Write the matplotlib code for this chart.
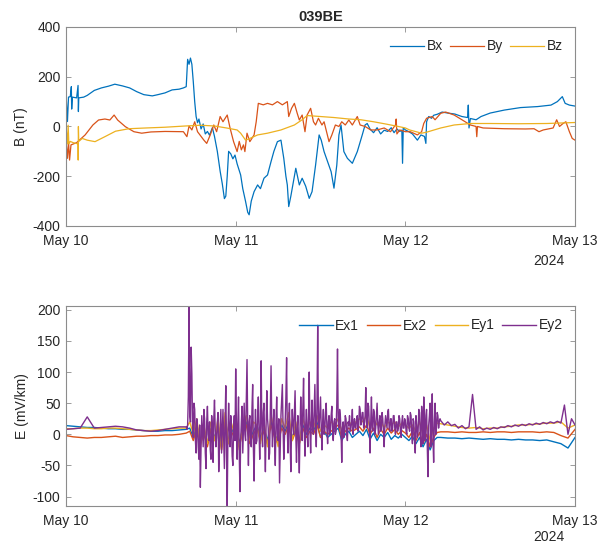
import matplotlib.pyplot as plt
import numpy as np

plt.rcParams['font.family'] = ['Liberation Sans', 'DejaVu Sans']
plt.rcParams['axes.unicode_minus'] = False

# time axis in hours from May 10 00:00
day_ticks = [0, 24, 48, 72]
day_labels = ['May 10', 'May 11', 'May 12', 'May 13']

# magnetic field (nT)
bx_t = [0, 0.2, 0.35, 0.6, 0.75, 0.8, 0.9, 1.5, 1.7, 1.75,
        1.8, 2.5, 3, 4, 5, 6, 6.9, 8, 9, 10,
        11, 12.2, 13, 14, 15, 16, 16.6, 17, 17.2, 17.4,
        17.6, 17.8, 18, 18.2, 18.4, 18.6, 18.8, 19.1, 19.4, 19.7,
        20, 20.3, 20.7, 21, 21.4, 21.8, 22.1, 22.4, 22.6, 22.8,
        23, 23.3, 23.6, 23.9, 24.2, 24.7, 25, 25.4, 25.7, 25.9,
        26.2, 26.6, 27.1, 27.5, 28, 28.5, 29, 29.4, 29.9, 30.4,
        30.8, 31.1, 31.3, 31.5, 31.8, 32, 32.5, 33, 33.4, 33.9,
        34.4, 34.8, 35.3, 35.8, 36.1, 36.5, 37, 37.5, 37.9, 38.3,
        38.6, 38.9, 39.3, 39.8, 40.5, 41.2, 41.9, 42.3, 42.6, 43,
        43.5, 44, 44.5, 45, 45.5, 46, 46.4, 46.8, 47.2, 47.5,
        47.6, 47.7, 48, 48.5, 49, 49.7, 50.2, 50.7, 50.9, 51,
        51.3, 51.7, 52, 52.5, 53.2, 54, 55, 56, 56.8, 56.9,
        57, 57.2, 58, 58.7, 60, 62, 64.3, 66.7, 68.6, 69.5,
        70.2, 70.6, 71.2, 72]
bx = [133, 20, 118, 120, 160, 70, 118, 115, 165, 60,
      115, 118, 125, 145, 155, 162, 170, 163, 155, 140,
      128, 123, 128, 135, 147, 150, 155, 160, 270, 250,
      275, 250, 180, 100, 40, 15, 30, -10, 10, -30,
      -20, -35, -5, -40, -100, -180, -230, -290, -280, -200,
      -100, -110, -130, -115, -150, -195, -250, -302, -345, -355,
      -300, -262, -235, -250, -208, -195, -141, -100, -61, -55,
      -128, -200, -235, -322, -280, -248, -168, -235, -208, -240,
      -289, -262, -155, -34, -55, -101, -141, -182, -248, -155,
      -34, 6, -101, -128, -148, -101, -34, 6, 12, -10,
      -25, -5, -30, -15, -20, -5, -25, -10, -20, -15,
      -148, -5, -14, -21, -30, -55, -34, -40, -68, 19,
      40, 33, 45, 49, 58, 54, 50, 40, 36, 86,
      -6, 32, 27, 40, 54, 66, 76, 80, 86, 100,
      120, 93, 86, 82]

by_t = [0, 0.2, 0.35, 0.5, 0.7, 1.5, 2.7, 3.8, 4.6, 5.5,
        6.2, 6.8, 7.3, 8.4, 9.6, 10.7, 12, 14, 16.6, 17.1,
        17.4, 17.8, 18.2, 18.6, 19.5, 19.9, 20.4, 20.9, 21.3, 21.8,
        22.2, 22.8, 23.2, 23.7, 24.2, 24.5, 24.8, 25.1, 25.3, 25.6,
        26, 26.6, 26.9, 27.2, 27.9, 28.5, 29.2, 29.9, 30.6, 31.3,
        31.5, 31.9, 32.3, 32.7, 33, 33.4, 33.8, 34.1, 34.6, 35,
        35.3, 35.7, 36.2, 36.5, 37.2, 37.6, 38.1, 38.6, 39, 39.5,
        40, 40.5, 41.2, 41.6, 42.3, 43.1, 44, 45, 45.9, 46.6,
        46.7, 46.8, 47.2, 48, 48.7, 49.7, 50.3, 50.6, 51, 51.8,
        52.2, 53, 53.7, 54.9, 56, 57.2, 58, 58.1, 58.2, 59,
        62, 65, 66.2, 66.9, 67.5, 68.9, 69.4, 69.8, 70.3, 70.7,
        71.2, 71.6, 72]
by = [-61, -128, -60, -135, -74, -65, -34, 6, 26, 30,
      26, 46, 26, -1, -21, -27, -22, -20, -21, -41,
      2, -14, 19, -21, -55, -68, -34, 6, -21, 40,
      19, 46, -6, -61, -101, -60, -94, -74, -101, -27,
      -61, -34, 19, 93, 87, 93, 87, 100, 87, 100,
      40, 73, 93, 53, 26, 46, -21, 46, 73, 19,
      6, 33, 6, 19, -61, -34, 6, 0, 19, 6,
      26, 6, 40, 6, 0, -14, -14, -6, -21, 6,
      30, -30, -14, -21, -21, -34, -21, 12, 33, 40,
      27, 53, 58, 46, 27, 6, 0, -41, 0, -6,
      -9, -10, -9, -21, -14, -6, 27, 0, 12, 19,
      -21, -48, -55]

bz_t = [0, 0.2, 0.3, 0.4, 0.6, 1.0, 1.7, 1.72, 1.75, 1.8,
        2.3, 3.0, 4.1, 5.5, 7.0, 8.9, 11.3, 14, 16.9, 19,
        21, 22.7, 24.2, 24.7, 25.4, 26, 27.1, 28.5, 30.4, 32.3,
        33.4, 34.1, 36, 37.9, 40, 41.7, 43.5, 45.4, 47, 48,
        48.6, 50.3, 51, 53, 54.9, 57.2, 60, 64, 68, 72]
bz = [-1, -70, 5, -70, -60, -65, -70, -135, 0, -60,
      -48, -55, -61, -41, -19, -9, -6, -3, 2, 5,
      2, -6, -14, -27, -55, -48, -34, -27, -14, 6,
      27, 44, 40, 36, 30, 27, 19, 9, 0, -6,
      -14, -27, -23, -6, 6, 12, 12, 11, 12, 16]

# electric field (mV/km): hourly before/after the storm, finer during it
t_e = np.concatenate([np.arange(0, 17), np.arange(34, 106) / 2, np.arange(53, 73)])
t_ey2 = np.concatenate([np.arange(0, 17), np.arange(170, 530) / 10, np.arange(106, 145) / 2])

ex1 = [14, 13, 12, 11, 11, 10, 9, 9, 8, 8, 7, 6, 5, 5, 6, 6, 7,
       8, 10, -5, 15, -10, 5, -15, 10, -5, 15,
       -20, 25, -10, 5, 15, -15, 10, 20, -10, 5,
       15, -5, 10, -10, 20, 0, -10, 15, 5, 20,
       -5, 10, -10, 15, 0, 10, 5, 20, -5, 5,
       -5, 0, 5, 10, -10, 0, 5, -5, 0, 5,
       -2, 8, -8, 2, -10, 0, -5, 3, -8, -2,
       -6, 0, -5, -10, -3, -15, -5, -20, -8, -25,
       -10, -5,
       -5, -6, -6, -7, -6, -7, -8, -7, -8, -8, -9, -8, -9, -9, -10, -9, -12, -15, -22, -5]

ex2 = [-2, -4, -5, -6, -5, -5, -4, -3, -5, -4, -3, -3, -2, -2, -1, -1, 0,
       2, 5, -10, 10, -15, 0, -20, 8, -10, 12,
       -25, 20, -15, 0, 10, -20, 5, 15, -15, 0,
       10, -10, 5, -15, 15, -5, -15, 10, 0, 15,
       -10, 5, -15, 10, -5, 5, 0, 15, -5, 5,
       0, 5, 10, 15, -5, 5, 10, 5, 8, 12,
       5, 15, 0, 10, -5, 8, 0, 10, 2, 8,
       0, 6, 2, -5, 5, -10, 3, -15, 0, -20,
       -5, 3,
       4, 4, 3, 4, 3, 3, 4, 3, 4, 4, 3, 4, 4, 4, 3, 4, 3, -2, -6, 8]

ey1 = [9, 9, 10, 10, 9, 9, 10, 10, 9, 8, 7, 6, 6, 7, 8, 9, 10,
       10, 20, 0, 25, -20, 15, -15, 20, -10, 25,
       -25, 35, -15, 10, 30, -25, 15, 30, -10, 20,
       15, -15, 20, -20, 30, 5, -20, 25, 10, 35,
       -10, 20, -15, 25, 5, 20, 10, 30, 5, 15,
       10, 20, 15, 25, 5, 15, 20, 15, 20, 25,
       20, 30, 10, 25, 15, 22, 10, 20, 15, 20,
       12, 18, 15, 10, 15, 5, 20, 0, 15, -10,
       10, 18,
       17, 15, 13, 11, 10, 11, 9, 10, 10, 12, 13, 15, 15, 16, 17, 18, 18, 20, 10, 15]

ey2 = [8, 9, 10, 28, 10, 11, 12, 13, 12, 10, 7, 6, 5, 6, 8, 10, 12,
       # storm, every 6 minutes from 17:00 on May 10
       12, 8, 15, 60, 205, 30, 20, 140, 97, 10,
       -5, 50, 40, -10, -30, 25, 10, -20, -40, 15,
       -85, -20, 30, 5, -20, 40, 25, -30, -55, 20,
       45, 0, -10, 20, -25, -40, 30, 10, -45, 25,
       55, 10, -20, -5, 20, 35, -60, -20, 10, 40,
       -30, 5, 40, -10, -55, 20, 78, -30, -115, 0,
       50, 10, -20, 30, 15, -35, -50, 10, 30, -10,
       105, 20, -40, 15, 60, -30, -92, -10, 20, 45,
       -30, 10, 50, 0, -10, 60, 120, 10, -50, 20,
       30, -5, -20, 40, 80, -20, -75, 0, 40, -15,
       -10, 30, 60, 5, -40, 20, 118, 10, -20, 35,
       50, -10, -60, 15, 70, 25, 10, -40, -30, 40,
       110, 20, -20, 15, 40, -10, -50, 20, 60, 0,
       -10, 25, -78, -20, 30, 55, 80, 10, -40, -5,
       20, 60, 123, 5, -30, 20, 50, -15, -60, 10,
       40, 15, 0, 35, 70, 0, -45, 10, 30, -20,
       -62, 10, 60, 20, -10, 45, 90, 5, -35, 15,
       40, 5, -20, 30, 100, 10, -30, 20, 55, 5,
       0, 40, 80, 10, -20, 50, 175, 20, 10, 35,
       60, 10, -25, 20, 40, 0, 5, 35, 50, 10,
       -15, 20, 30, 0, 10, 30, 45, 5, -10, 20,
       25, 0, 5, 50, 137, 20, 10, 40, 30, 5,
       -45, 10, 20, -5, 5, 30, 25, 0, -10, 20,
       15, 30, 5, 10, 20, 40, 0, 15, 25, 10,
       10, 25, 30, 5, 15, 45, 40, 15, 20, 35,
       35, 10, 15, 30, 75, 20, 10, 50, 45, 15,
       -30, 20, 60, 10, 5, 40, 35, 0, 10, 30,
       50, 15, 0, 20, 30, 5, 10, 35, 25, 5,
       -20, 15, 30, 20, 10, 35, 40, 10, 5, 25,
       25, 5, 10, 30, 30, 10, 0, 20, 20, 5,
       10, 30, 25, 5, -5, 20, 30, 10, 10, 25,
       20, 5, 0, 30, 25, 10, 5, 35, 30, 0,
       -15, 25, 20, -10, -30, 30, 15, -5, 5, 40,
       35, 0, -20, 45, 25, -15, 60, 20, -10, 30,
       40, -20, -68, 15, 30, 50, -20, 10, 65, -5,
       -45, 20, 50, 0, 10, 35, 30, 10, 20, 25,
       # after the storm, every 30 minutes
       22, 15, 20, 14, 16, 10, 14, 9, 12, 64,
       8, 12, 7, 10, 8, 11, 9, 12, 11, 14,
       12, 15, 13, 16, 14, 17, 15, 18, 16, 19,
       17, 20, 18, 21, 18, 47, 0, 25, 15]

blue, orange, yellow, purple = '#0072BD', '#D95319', '#EDB120', '#7E2F8E'
axis_col = '#8c8c8c'
text_col = '#262626'

fig = plt.figure(figsize=(6.08, 5.44), dpi=100)
ax1 = fig.add_axes([0.1086, 0.5846, 0.8372, 0.3658])
ax2 = fig.add_axes([0.1086, 0.0699, 0.8372, 0.3676])

ax1.plot(bx_t, bx, color=blue, lw=0.9, label='Bx')
ax1.plot(by_t, by, color=orange, lw=0.9, label='By')
ax1.plot(bz_t, bz, color=yellow, lw=0.9, label='Bz')
ax1.set_ylim(-400, 400)
ax1.set_yticks([-400, -200, 0, 200, 400])
ax1.set_ylabel('B (nT)', color=text_col, fontsize=10, labelpad=3)
ax1.set_title('039BE', fontweight='bold', fontsize=10.5, color=text_col, pad=4)

ax2.plot(t_e, ex1, color=blue, lw=1.0, label='Ex1')
ax2.plot(t_e, ex2, color=orange, lw=1.0, label='Ex2')
ax2.plot(t_e, ey1, color=yellow, lw=1.0, label='Ey1')
ax2.plot(t_ey2, ey2, color=purple, lw=1.0, label='Ey2')
ax2.set_ylim(-115, 206)
ax2.set_yticks([-100, -50, 0, 50, 100, 150, 200])
ax2.set_ylabel('E (mV/km)', color=text_col, fontsize=10, labelpad=3)

for ax, yr in ((ax1, -0.175), (ax2, -0.155)):
    ax.set_xlim(0, 72)
    ax.set_xticks(day_ticks)
    ax.set_xticklabels(day_labels)
    ax.tick_params(direction='in', top=True, right=True, length=3.5, width=0.6,
                   colors=axis_col, labelcolor=text_col, labelsize=10)
    ax.tick_params(axis='x', pad=6)
    ax.tick_params(axis='y', pad=4)
    for s in ax.spines.values():
        s.set_color(axis_col)
        s.set_linewidth(0.8)
    ax.text(0.98, yr, '2024', transform=ax.transAxes, ha='right', va='center',
            fontsize=10, color=text_col)
    ax.legend(ncol=4, loc='upper right', frameon=False, fontsize=10,
              handlelength=2.4, handletextpad=0.2, columnspacing=0.55,
              labelcolor=text_col)

plt.savefig('out.png', dpi=100)
